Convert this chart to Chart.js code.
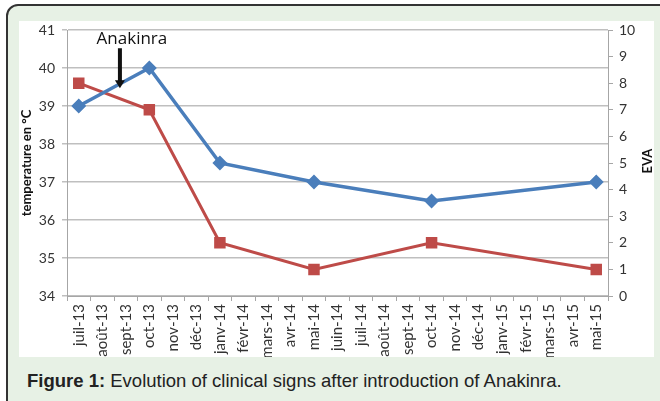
<!DOCTYPE html>
<html>
<head>
<meta charset="utf-8">
<script src="https://cdn.jsdelivr.net/npm/chart.js@4"></script>
<style>
  html, body { margin: 0; padding: 0; }
  body { width: 660px; height: 401px; background: #fff; overflow: hidden; position: relative; }
  .panel {
    position: absolute; left: 6px; top: 4px; width: 670px; height: 420px;
    background: #e7f1e5; border: 2px solid #333; border-radius: 12px; box-sizing: border-box;
  }
  .plot { position: absolute; left: 19px; top: 21px; width: 635px; height: 336px; background: #fff; }
  .caption {
    position: absolute; left: 27px; top: 370px; font-family: "Liberation Sans", Arial, sans-serif;
    font-size: 18.5px; color: #222;
  }
</style>
</head>
<body>
<div class="panel"></div>
<div class="plot"><canvas id="c" width="635" height="336"></canvas></div>
<div class="caption"><b>Figure 1:</b> Evolution of clinical signs after introduction of Anakinra.</div>
<script>
const months = ['juil-13','août-13','sept-13','oct-13','nov-13','déc-13','janv-14','févr-14','mars-14','avr-14','mai-14','juin-14','juil-14','août-14','sept-14','oct-14','nov-14','déc-14','janv-15','févr-15','mars-15','avr-15','mai-15'];
const temperature = [39,null,null,40,null,null,37.5,null,null,null,37,null,null,null,null,36.5,null,null,null,null,null,null,37];
const eva = [8,null,null,7,null,null,2,null,null,null,1,null,null,null,null,2,null,null,null,null,null,null,1];
const tempTicks = [34, 41];
const evaTicks = [0, 10];

const tickFont = { family: 'Lato, "Open Sans", sans-serif', size: 14 };
const xFont = { family: 'Lato, "Open Sans", sans-serif', size: 15 };
const titleFont = { family: 'Lato, "Open Sans", sans-serif', size: 13, weight: 'bold' };

// arrow + label for treatment start, and the right axis title read bottom-up
const anakinraPlugin = {
  id: 'anakinra',
  afterDatasetsDraw(chart) {
    const ctx = chart.ctx;
    const x = chart.scales.x.getPixelForValue(1.75);
    const y0 = chart.scales.y.getPixelForValue(40.52);
    const y1 = chart.scales.y.getPixelForValue(39.47);
    ctx.save();
    ctx.fillStyle = '#111';
    ctx.strokeStyle = '#111';
    ctx.font = '17px "Open Sans", sans-serif';
    ctx.textAlign = 'center';
    ctx.textBaseline = 'middle';
    ctx.fillText('Anakinra', x + 12, chart.scales.y.getPixelForValue(40.76));
    ctx.lineWidth = 4;
    ctx.beginPath();
    ctx.moveTo(x, y0);
    ctx.lineTo(x, y1 - 6);
    ctx.stroke();
    ctx.beginPath();
    ctx.moveTo(x - 5, y1 - 8);
    ctx.lineTo(x + 5, y1 - 8);
    ctx.lineTo(x, y1);
    ctx.closePath();
    ctx.fill();

    const r = chart.scales.y1;
    ctx.translate(r.right - 6, (r.top + r.bottom) / 2 - 2);
    ctx.rotate(-Math.PI / 2);
    ctx.font = 'bold 13px Lato, "Open Sans", sans-serif';
    ctx.fillText('EVA', 0, 0);
    ctx.restore();
  }
};

function noPad(s) {
  s.paddingTop = 0; s.paddingBottom = 0; s.paddingLeft = 0; s.paddingRight = 0;
}

new Chart(document.getElementById('c'), {
  type: 'line',
  data: {
    labels: months,
    datasets: [
      {
        label: 'temperature',
        data: temperature,
        yAxisID: 'y',
        borderColor: '#4a7ebb',
        backgroundColor: '#4a7ebb',
        borderWidth: 3.5,
        pointStyle: 'rectRot',
        pointRadius: 5,
        spanGaps: true,
        tension: 0
      },
      {
        label: 'EVA',
        data: eva,
        yAxisID: 'y1',
        borderColor: '#be4b48',
        backgroundColor: '#be4b48',
        borderWidth: 3,
        pointStyle: 'rect',
        pointRadius: 6,
        spanGaps: true,
        tension: 0
      }
    ]
  },
  options: {
    responsive: false,
    animation: false,
    layout: { padding: { top: 9, right: 0, left: 0, bottom: 0 } },
    plugins: { legend: { display: false }, tooltip: { enabled: false } },
    scales: {
      x: {
        offset: true,
        grid: { offset: true, drawOnChartArea: false, color: '#a6a6a6', tickLength: 5 },
        border: { color: '#a6a6a6' },
        ticks: { font: xFont, color: '#333', minRotation: 90, maxRotation: 90, autoSkip: false, padding: 3 },
        afterFit(s) { s.height = 61; noPad(s); }
      },
      y: {
        position: 'left',
        min: tempTicks[0], max: tempTicks[1],
        ticks: { stepSize: 1, font: tickFont, color: '#333', padding: 7 },
        grid: { color: '#bfbfbf', lineWidth: 1.5, tickLength: 5 },
        border: { color: '#a6a6a6' },
        title: { display: true, text: 'temperature en °C', font: titleFont, color: '#111', padding: 0 },
        afterFit(s) { s.width = 48; noPad(s); }
      },
      y1: {
        position: 'right',
        min: evaTicks[0], max: evaTicks[1],
        ticks: { stepSize: 1, font: tickFont, color: '#333', padding: 6 },
        grid: { drawOnChartArea: false, color: '#a6a6a6', tickLength: 5 },
        border: { color: '#a6a6a6' },
        afterFit(s) { s.width = 46; noPad(s); }
      }
    }
  },
  plugins: [anakinraPlugin]
});
</script>
</body>
</html>
